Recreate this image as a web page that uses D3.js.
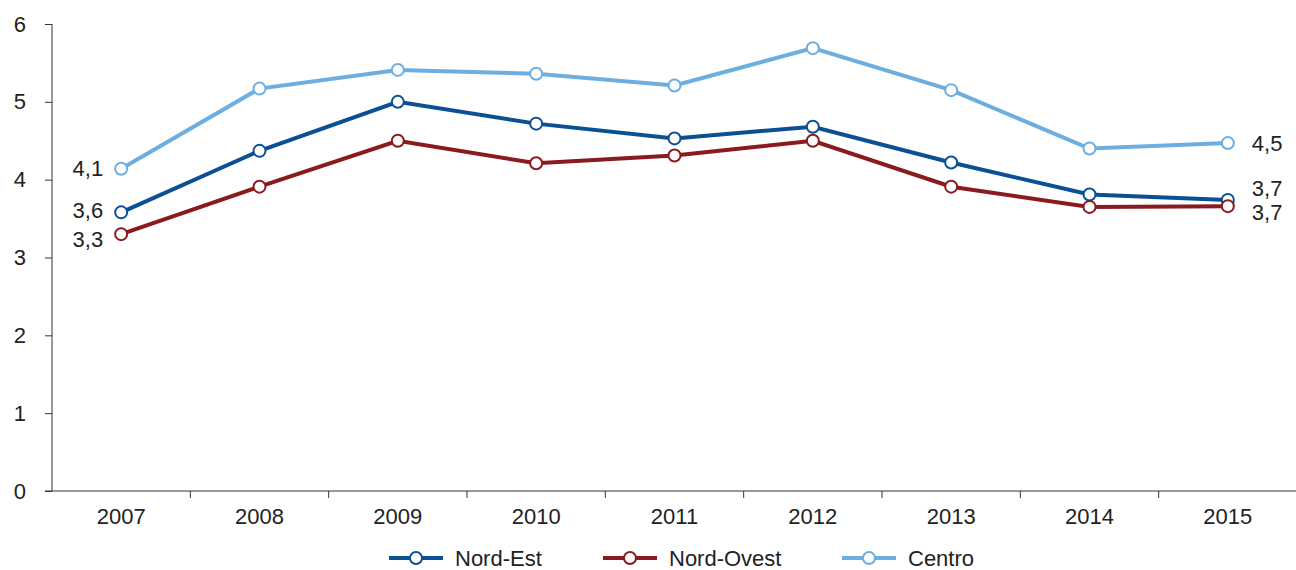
<!doctype html>
<html>
<head>
<meta charset="UTF-8">
<title>Nord-Est / Nord-Ovest / Centro</title>
<script src="https://d3js.org/d3.v7.min.js"></script>
<style>
  body { margin: 0; background: #fff; }
  * { font-family: "Liberation Sans", Arial, Helvetica, sans-serif; }
</style>
</head>
<body>
<svg id="chart" width="1296" height="570"></svg>
<script>
// data
var years = ["2007", "2008", "2009", "2010", "2011", "2012", "2013", "2014", "2015"];
var nordEst   = [3.58, 4.37, 5.00, 4.72, 4.53, 4.68, 4.22, 3.81, 3.74];
var nordOvest = [3.30, 3.91, 4.50, 4.21, 4.31, 4.50, 3.91, 3.65, 3.66];
var centro    = [4.14, 5.17, 5.41, 5.36, 5.21, 5.69, 5.15, 4.40, 4.47];
var yTicks = [0, 1, 2, 3, 4, 5, 6];

var series = [
  { name: "Nord-Est",   values: nordEst,   color: "#0b4f95" },
  { name: "Nord-Ovest", values: nordOvest, color: "#8a1a1e" },
  { name: "Centro",     values: centro,    color: "#6daee0" }
];

var svg = d3.select("#chart");
var plotLeft = 52, plotRight = 1297, plotTop = 24, plotBottom = 491;
var fontSize = 22;

var x = d3.scaleBand().domain(years).range([plotLeft, plotRight]);
var y = d3.scaleLinear().domain([0, 6]).range([plotBottom, plotTop]);
var cx = function(i) { return x(years[i]) + x.bandwidth() / 2; };

// y axis
var yAxis = svg.append("g").attr("transform", "translate(" + plotLeft + ",0)")
  .call(d3.axisLeft(y).tickValues(yTicks).tickSize(7).tickPadding(19).tickFormat(d3.format("d")));
yAxis.select(".domain").attr("d", "M0," + plotTop + "V" + plotBottom).attr("stroke", "#333");
yAxis.selectAll(".tick line").attr("stroke", "#333");
yAxis.selectAll("text").attr("font-size", fontSize).attr("fill", "#222").attr("font-family", "Liberation Sans, Arial, sans-serif");

// x axis
var xAxis = svg.append("g").attr("transform", "translate(0," + plotBottom + ")")
  .call(d3.axisBottom(x).tickSize(0).tickPadding(17));
xAxis.select(".domain").attr("d", "M" + (plotLeft - 7) + ",0H1296").attr("stroke", "#333");
xAxis.selectAll("text").attr("font-size", fontSize).attr("fill", "#222").attr("font-family", "Liberation Sans, Arial, sans-serif");
// boundary tick marks between categories
svg.append("g").selectAll("line")
  .data(years.slice(1))
  .enter().append("line")
    .attr("x1", function(d) { return x(d); })
    .attr("x2", function(d) { return x(d); })
    .attr("y1", plotBottom)
    .attr("y2", plotBottom + 7)
    .attr("stroke", "#333");

var line = d3.line()
  .x(function(d, i) { return cx(i); })
  .y(function(d) { return y(d); });

series.forEach(function(s) {
  var g = svg.append("g");
  g.append("path")
    .datum(s.values)
    .attr("fill", "none")
    .attr("stroke", s.color)
    .attr("stroke-width", 4)
    .attr("d", line);
  g.selectAll("circle")
    .data(s.values)
    .enter().append("circle")
      .attr("cx", function(d, i) { return cx(i); })
      .attr("cy", function(d) { return y(d); })
      .attr("r", 6)
      .attr("fill", "#fff")
      .attr("stroke", s.color)
      .attr("stroke-width", 2);
});

// first / last value labels
var fmt = function(v) { return d3.format(".1f")(v).replace(".", ","); };
var startDy = { "Nord-Est": -2, "Nord-Ovest": 5, "Centro": 0 };
var endDy = { "Nord-Est": -12, "Nord-Ovest": 6, "Centro": 0 };
series.forEach(function(s) {
  svg.append("text")
    .attr("x", cx(0) - 18)
    .attr("y", y(s.values[0]) + startDy[s.name])
    .attr("dy", "0.35em")
    .attr("text-anchor", "end")
    .attr("font-size", fontSize)
    .attr("fill", "#222")
    .text(fmt(s.values[0]));
  var last = s.values.length - 1;
  svg.append("text")
    .attr("x", cx(last) + 24)
    .attr("y", y(s.values[last]) + endDy[s.name])
    .attr("dy", "0.35em")
    .attr("font-size", fontSize)
    .attr("fill", "#222")
    .text(fmt(s.values[last]));
});

// legend
var legendX = [389, 603, 842];
var legend = svg.append("g");
series.forEach(function(s, i) {
  var lg = legend.append("g").attr("transform", "translate(" + legendX[i] + ",558)");
  lg.append("line").attr("x1", 0).attr("x2", 54).attr("y1", 0).attr("y2", 0)
    .attr("stroke", s.color).attr("stroke-width", 4);
  lg.append("circle").attr("cx", 27).attr("cy", 0).attr("r", 6)
    .attr("fill", "#fff").attr("stroke", s.color).attr("stroke-width", 2);
  lg.append("text").attr("x", 66).attr("y", 0).attr("dy", "0.35em")
    .attr("font-size", 22).attr("fill", "#222").text(s.name);
});
</script>
</body>
</html>
